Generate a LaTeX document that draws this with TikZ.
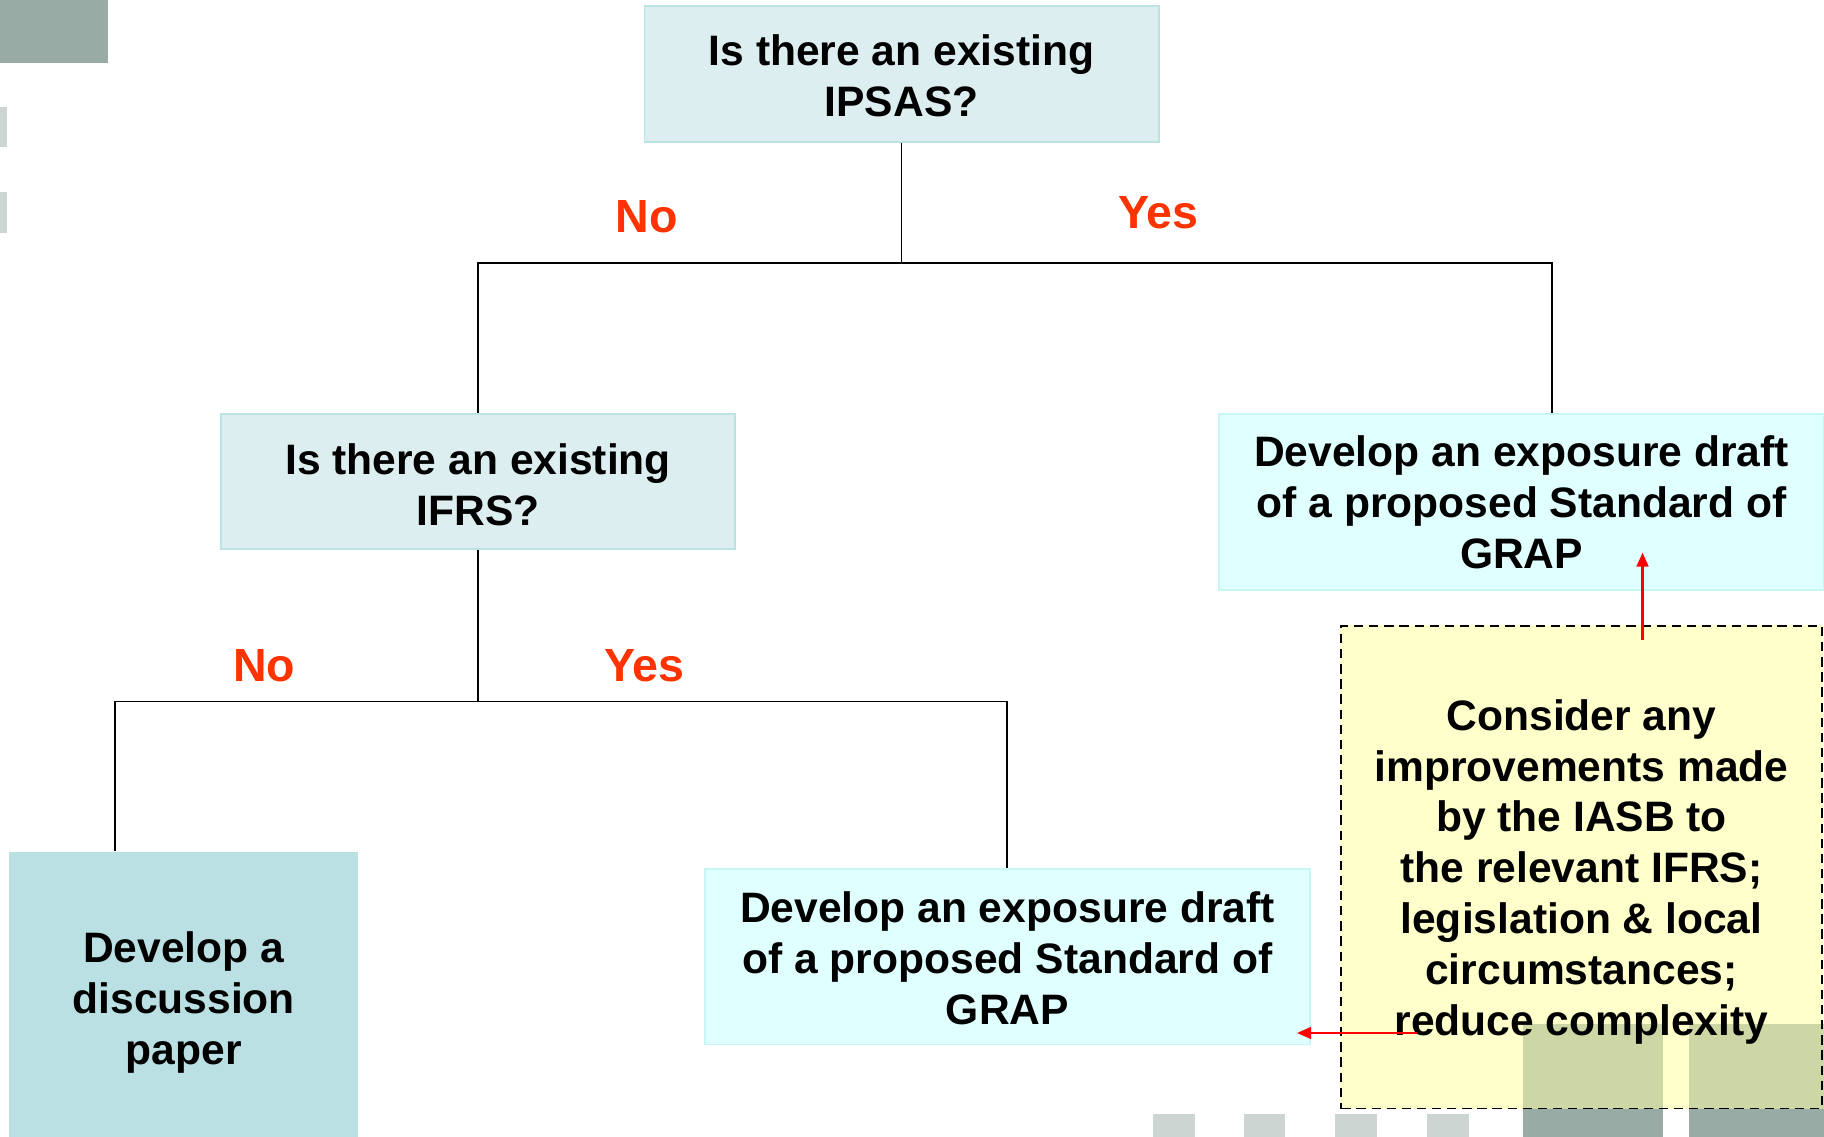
\documentclass[tikz,border=0pt]{standalone}
\usepackage{fontspec}
\setmainfont{Liberation Sans}
\usetikzlibrary{calc,arrows.meta,backgrounds}
\definecolor{qfill}{HTML}{DDEEF0}
\definecolor{qline}{HTML}{BCE2E6}
\definecolor{gfill}{HTML}{E0FFFF}
\definecolor{gline}{HTML}{C6F6F6}
\definecolor{dfill}{HTML}{BBE0E3}
\definecolor{yfill}{HTML}{FFFFCC}
\definecolor{lblred}{HTML}{FF3300}
\definecolor{deco}{HTML}{98ABA4}
\definecolor{decomix}{HTML}{CDD6A5}
\definecolor{decolight}{HTML}{CCD5D2}
\newcommand{\topstrut}[1]{\rule{0pt}{#1}}
\tikzset{
  x=0.5pt, y=-0.5pt,
  boxtext/.style={font=\bfseries\fontsize{18.3}{21.9}\selectfont, align=center, inner sep=0pt, anchor=center},
  qbox/.style={boxtext, fill=qfill, draw=qline, line width=0.75pt},
  gbox/.style={boxtext, fill=gfill, draw=gline, line width=0.75pt},
  dbox/.style={boxtext, fill=dfill},
  ybox/.style={boxtext, draw=black, dash pattern=on 4pt off 2.5pt, line width=0.75pt},
  conn/.style={draw=black, line width=0.8pt},
  lbl/.style={font=\bfseries\fontsize{20}{24}\selectfont, text=lblred, inner sep=0pt, anchor=center},
  redarrow/.style={draw=red, line width=1pt, -{Triangle[length=6pt,width=5pt]}},
}
\begin{document}
\begin{tikzpicture}
\useasboundingbox (0,0) rectangle (1568,977);
% decorations
\fill[deco] (0,0) rectangle (93,54);
\fill[decolight] (0,92) rectangle (6,126);
\fill[decolight] (0,165) rectangle (6,200);
\foreach \a in {991,1069,1148,1227}{\fill[decolight] (\a,958) rectangle (\a+36,977);}
% boxes
\node[qbox, minimum width=221pt, minimum height=58.5pt] (q1) at (775,63.5) {\topstrut{15.3pt}Is there an existing\\IPSAS?};
\node[qbox, minimum width=221pt, minimum height=58pt] (q2) at (411,414) {\topstrut{15.8pt}Is there an existing\\IFRS?};
\node[gbox, minimum width=260pt, minimum height=75.5pt] (r1) at (1308,431.5) {Develop an exposure draft\\of a proposed Standard of\\GRAP};
\node[gbox, minimum width=260pt, minimum height=75.5pt] (r2) at (866,822.5) {\topstrut{14.6pt}Develop an exposure draft\\of a proposed Standard of\\GRAP};
\node[dbox, minimum width=150pt, minimum height=130pt] (d1) at (158,862) {Develop a\\discussion\\paper};
\node[ybox, minimum width=206.5pt, minimum height=207.5pt] (c1) at (1359.5,745.5) {\topstrut{17.3pt}Consider any\\improvements made\\by the IASB to\\the relevant IFRS;\\legislation \& local\\circumstances;\\reduce complexity};
\begin{pgfonlayer}{background}
  \fill[yfill] (c1.north west) rectangle (c1.south east);
  \fill[decomix] (1309,880) rectangle (1430,953);
  \fill[decomix] (1452,880) rectangle (1568,953);
  \fill[deco] (1309,953) rectangle (1430,977);
  \fill[deco] (1452,953) rectangle (1568,977);
\end{pgfonlayer}
% connectors
\coordinate (j1) at (775,226);
\coordinate (j2) at (411,603);
\draw[conn] (q1.south) -- (j1);
\draw[conn] (q2.north) |- (j1) -| ($(r1.north)+(26,0)$);
\draw[conn] (q2.south) -- (j2);
\draw[conn] ($(d1.north)+(-59,0)$) |- (j2) -| (r2.north);
% labels
\node[lbl] (no1) at (556,186) {No};
\node[lbl] (yes1) at (996,183) {Yes};
\node[lbl] (no2) at (227,572) {No};
\node[lbl] (yes2) at (554,572) {Yes};
% red arrows
\coordinate (a1s) at (1412,550);
\coordinate (a1e) at (1412,475);
\coordinate (a2s) at (1218,888);
\coordinate (a2e) at (1115,888);
\draw[redarrow] (a1s) -- (a1e);
\draw[redarrow] (a2s) -- (a2e);
\end{tikzpicture}
\end{document}
